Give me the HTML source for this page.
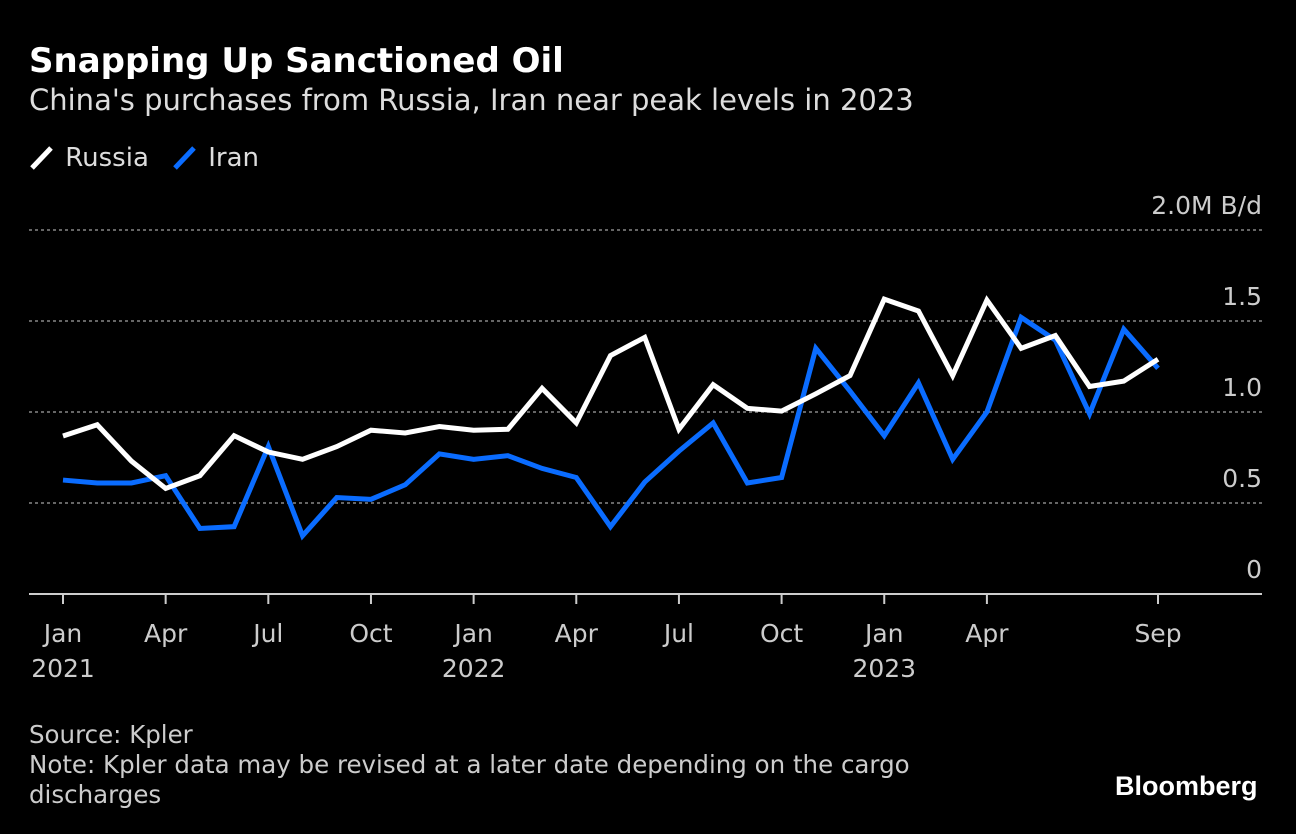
<!DOCTYPE html>
<html><head><meta charset="utf-8">
<style>
html,body{margin:0;padding:0;background:#000;}
body{width:1296px;height:834px;overflow:hidden;position:relative;font-family:"DejaVu Sans","Liberation Sans",sans-serif;color:#fff;}
.t{position:absolute;white-space:nowrap;}
</style></head>
<body>
<div class="t" style="left:29px;top:41px;font-size:34px;font-weight:bold;">Snapping Up Sanctioned Oil</div>
<div class="t" style="left:29px;top:83px;font-size:29px;color:#ddd;">China's purchases from Russia, Iran near peak levels in 2023</div>
<div class="t" style="left:29px;top:142px;font-size:26px;color:#ddd;"><svg width="28" height="30" style="vertical-align:-6px"><line x1="3" y1="26" x2="22" y2="6" stroke="#fff" stroke-width="5"/></svg> Russia</div>
<div class="t" style="left:172px;top:142px;font-size:26px;color:#ddd;"><svg width="28" height="30" style="vertical-align:-6px"><line x1="3" y1="26" x2="22" y2="6" stroke="#0a6cff" stroke-width="5"/></svg> Iran</div>
<svg id="chart" width="1296" height="834" style="position:absolute;left:0;top:0;"></svg>
<div class="t" style="left:29px;top:720px;font-size:24.5px;color:#ccc;line-height:30px;">Source: Kpler<br>Note: Kpler data may be revised at a later date depending on the cargo<br>discharges</div>
<div class="t" style="left:1115px;top:771px;font-size:27px;font-weight:bold;font-family:'Liberation Sans',sans-serif;">Bloomberg</div>
<script>
const russia=[0.868,0.93,0.73,0.58,0.65,0.87,0.78,0.74,0.81,0.90,0.885,0.92,0.90,0.905,1.13,0.94,1.31,1.41,0.905,1.15,1.02,1.005,1.10,1.20,1.62,1.555,1.20,1.615,1.35,1.42,1.14,1.17,1.29];
const iran=[0.626,0.61,0.61,0.65,0.36,0.37,0.81,0.32,0.53,0.52,0.60,0.77,0.74,0.76,0.69,0.64,0.37,0.615,0.785,0.94,0.61,0.64,1.35,1.115,0.87,1.16,0.74,1.0,1.52,1.395,0.99,1.455,1.24];
const yTicks=[0,0.5,1.0,1.5,2.0];
const yTickLabels=["0","0.5","1.0","1.5","2.0M B/d"];
const xTickMonths=[0,3,6,9,12,15,18,21,24,27,32];
const xTickLabels=["Jan","Apr","Jul","Oct","Jan","Apr","Jul","Oct","Jan","Apr","Sep"];
const yearMonths=[0,12,24];
const yearLabels=["2021","2022","2023"];
const NS="http://www.w3.org/2000/svg";
const svg=document.getElementById('chart');
const FF='DejaVu Sans, Liberation Sans, sans-serif';
const X=m=>63+m*(1158-63)/32;
const Y=v=>594-v*182;
function mk(t,a){const e=document.createElementNS(NS,t);for(const k in a)e.setAttribute(k,a[k]);svg.appendChild(e);return e;}
yTicks.forEach((v,i)=>{
  if(v>0){const g=mk('line',{x1:29,x2:1262,y1:Y(v),y2:Y(v),stroke:'#888','stroke-width':1.5,'stroke-dasharray':'3,3'});
  
  }
  const t=mk('text',{x:1262,y:Y(v)-16,'text-anchor':'end',fill:'#ccc','font-size':25,'font-family':FF});
  t.textContent=yTickLabels[i];
  
  
});
const ax=mk('line',{x1:29,x2:1262,y1:594,y2:594,stroke:'#ccc','stroke-width':2});


xTickMonths.forEach((m,i)=>{
  const tk=mk('line',{x1:X(m),x2:X(m),y1:594,y2:604,stroke:'#ccc','stroke-width':2});
  
  
  const t=mk('text',{x:X(m),y:642,'text-anchor':'middle',fill:'#ccc','font-size':25,'font-family':FF});
  t.textContent=xTickLabels[i];
  
  
});
yearMonths.forEach((m,i)=>{
  const t=mk('text',{x:X(m),y:677,'text-anchor':'middle',fill:'#ccc','font-size':25,'font-family':FF});
  t.textContent=yearLabels[i];
  
  
});
function line(data,color,name){
  const p=mk('polyline',{points:data.map((v,i)=>X(i)+','+Y(v)).join(' '),fill:'none',stroke:color,'stroke-width':5,'stroke-linejoin':'miter'});
  
  
}
line(iran,'#0a6cff','iran-line');
line(russia,'#fff','russia-line');
</script>
</body></html>
